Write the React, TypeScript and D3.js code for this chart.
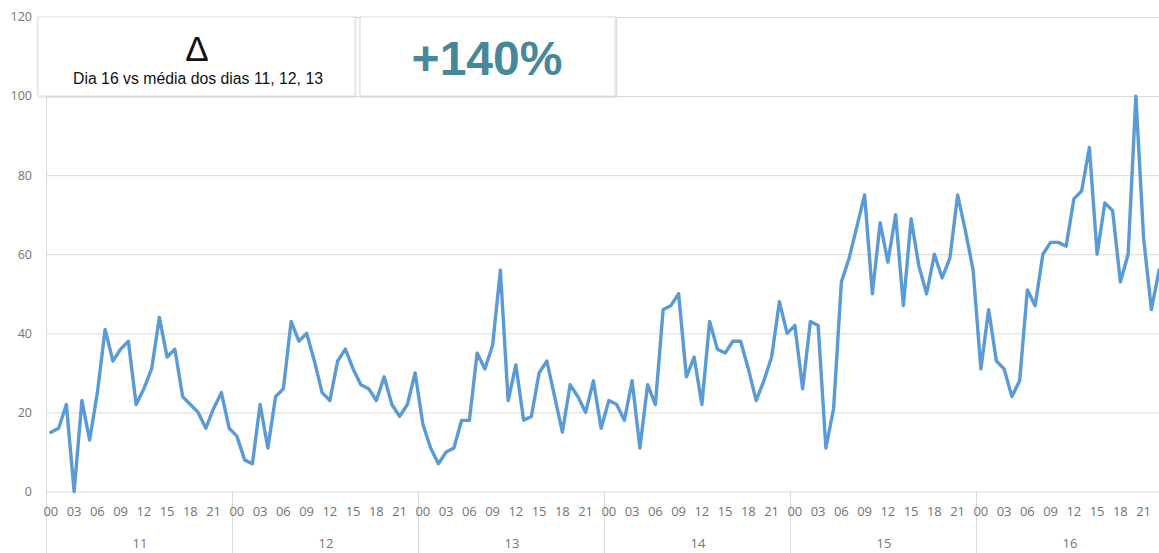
import React from "react";
import * as d3 from "d3";

const days = ["11", "12", "13", "14", "15", "16"];
const hourTicks = ["00", "03", "06", "09", "12", "15", "18", "21"];
const yTicks = [0, 20, 40, 60, 80, 100, 120];

const day11 = [15, 16, 22, 0, 23, 13, 25, 41, 33, 36, 38, 22, 26, 31, 44, 34, 36, 24, 22, 20, 16, 21, 25, 16];
const day12 = [14, 8, 7, 22, 11, 24, 26, 43, 38, 40, 33, 25, 23, 33, 36, 31, 27, 26, 23, 29, 22, 19, 22, 30];
const day13 = [17, 11, 7, 10, 11, 18, 18, 35, 31, 37, 56, 23, 32, 18, 19, 30, 33, 24, 15, 27, 24, 20, 28, 16];
const day14 = [23, 22, 18, 28, 11, 27, 22, 46, 47, 50, 29, 34, 22, 43, 36, 35, 38, 38, 31, 23, 28, 34, 48, 40];
const day15 = [42, 26, 43, 42, 11, 21, 53, 59, 67, 75, 50, 68, 58, 70, 47, 69, 57, 50, 60, 54, 59, 75, 66, 56];
const day16 = [31, 46, 33, 31, 24, 28, 51, 47, 60, 63, 63, 62, 74, 76, 87, 60, 73, 71, 53, 60, 100, 64, 46, 56];

const headline = "+140%";
const deltaSymbol = "Δ";
const deltaCaption = "Dia 16 vs média dos dias 11, 12, 13";

const series = [day11, day12, day13, day14, day15, day16].flat();

const W = 1159;
const H = 553;
const left = 47;
const hoursPerDay = 24;

export default function App() {
  const x = d3
    .scaleBand<number>()
    .domain(d3.range(series.length))
    .range([left, left + 7.75 * series.length])
    .paddingInner(0)
    .paddingOuter(0);
  const bw = x.bandwidth();
  const cx = (i: number) => (x(i) as number) + bw / 2;
  const y = d3.scaleLinear().domain([0, 120]).range([491.5, 17]);

  const line = d3
    .line<number>()
    .x((_, i) => cx(i))
    .y((d) => y(d));

  const grid = "#d9d9d9";
  const tickColor = "#747474";
  const font = "'Open Sans', sans-serif";

  return (
    <div style={{ position: "fixed", left: 0, top: 0, width: W, height: H, background: "#fff" }}>
      <svg width={W} height={H} style={{ display: "block" }}>
        <rect x={0} y={0} width={W} height={H} fill="#fff" />
        {yTicks.map((t) => (
          <g key={t}>
            <line x1={left} x2={W} y1={y(t) + 0.5} y2={y(t) + 0.5} stroke={grid} strokeWidth={1} />
            <text
              x={32}
              y={y(t)}
              dy="0.35em"
              textAnchor="end"
              fontFamily={font}
              fontSize={12.5}
              fill={tickColor}
            >
              {t}
            </text>
          </g>
        ))}
        <line x1={left - 0.5} x2={left - 0.5} y1={y(120)} y2={H} stroke={grid} strokeWidth={1} />
        {days.map((d, di) => {
          const x0 = x(di * hoursPerDay) as number;
          const x1 = di < days.length - 1 ? (x((di + 1) * hoursPerDay) as number) : left + 7.75 * series.length;
          return (
            <g key={d}>
              {di > 0 && (
                <line x1={x0 - 0.5} x2={x0 - 0.5} y1={y(0)} y2={H} stroke={grid} strokeWidth={1} />
              )}
              {hourTicks.map((h) => {
                const idx = di * hoursPerDay + parseInt(h, 10);
                return (
                  <text
                    key={h}
                    x={cx(idx)}
                    y={516}
                    textAnchor="middle"
                    fontFamily={font}
                    fontSize={13}
                    fill={tickColor}
                  >
                    {h}
                  </text>
                );
              })}
              <text
                x={(x0 + x1) / 2}
                y={547.5}
                textAnchor="middle"
                fontFamily={font}
                fontSize={13}
                fill={tickColor}
              >
                {d}
              </text>
            </g>
          );
        })}
        <path
          d={line(series) || ""}
          fill="none"
          stroke="#5b9bd5"
          strokeWidth={3.4}
          strokeLinejoin="round"
          strokeLinecap="round"
        />
        <defs>
          <filter id="sh" x="-5%" y="-10%" width="110%" height="130%">
            <feDropShadow dx="0.5" dy="1" stdDeviation="0.8" floodColor="#000" floodOpacity="0.12" />
          </filter>
        </defs>
        <rect x={38} y={17} width={317} height={79} fill="#fff" stroke="#dcdcdc" strokeWidth={1} filter="url(#sh)" />
        <rect x={360} y={17} width={255} height={79} fill="#fff" stroke="#dcdcdc" strokeWidth={1} filter="url(#sh)" />
        <line x1={616.5} x2={616.5} y1={17} y2={96} stroke="#dcdcdc" strokeWidth={1} />
        <text
          x={197}
          y={61}
          textAnchor="middle"
          fontFamily="'Liberation Sans', Arial, sans-serif"
          fontSize={35}
          fill="#111"
        >
          {deltaSymbol}
        </text>
        <text
          x={198}
          y={84}
          textAnchor="middle"
          fontFamily="'Liberation Sans', Arial, sans-serif"
          fontSize={15.8}
          fill="#111"
        >
          {deltaCaption}
        </text>
        <text
          x={487}
          y={75}
          textAnchor="middle"
          fontFamily="'Liberation Sans', Arial, sans-serif"
          fontSize={48}
          fontWeight="bold"
          fill="#46889a"
        >
          {headline}
        </text>
      </svg>
    </div>
  );
}
